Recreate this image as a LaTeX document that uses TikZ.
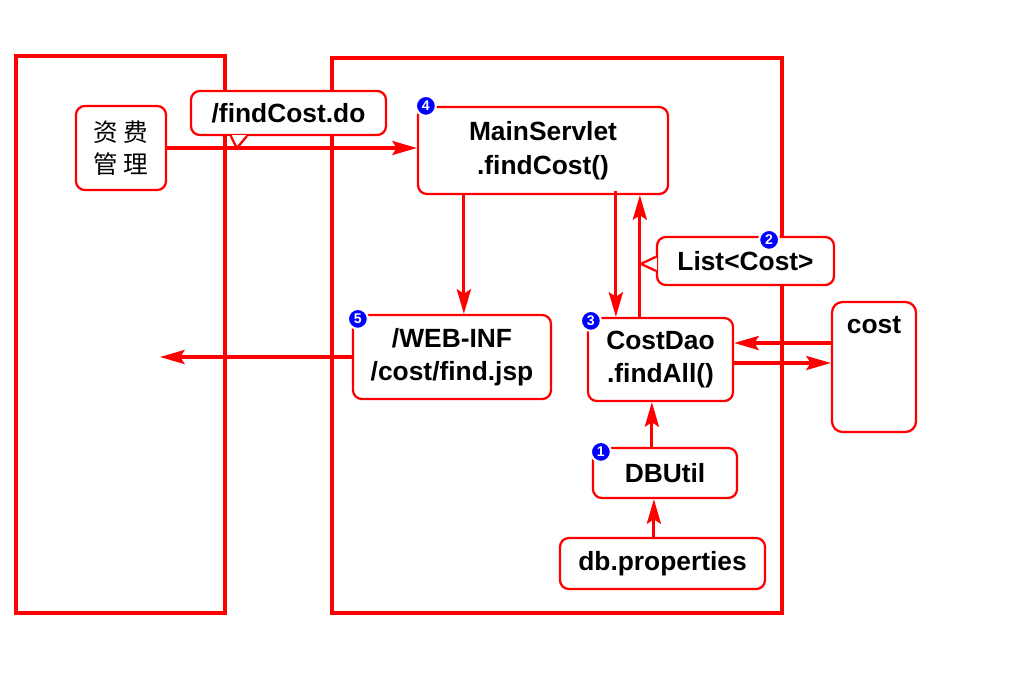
\documentclass[tikz,border=0pt]{standalone}
\usepackage{fontspec}
\setmainfont{Liberation Sans}
\newfontfamily\cjk{Noto Sans CJK SC}
\usetikzlibrary{arrows.meta,calc}
\tikzset{
  frame/.style={draw=red, line width=2pt},
  box/.style={draw=red, line width=1.3pt, fill=white, rounded corners=5pt, align=center,
    inner sep=0pt, font=\bfseries\fontsize{15}{19}\selectfont},
  arr/.style={->, draw=red, line width=1.8pt},
  badge/.style={circle, fill=blue, draw=white, line width=1.2pt, inner sep=0pt,
    minimum size=0.4cm, text=white, font=\bfseries\fontsize{8}{8}\selectfont},
}
\begin{document}
\begin{tikzpicture}[x=0.02cm, y=-0.02cm, >={Stealth[length=14pt,width=8pt,inset=2.5pt]}]
\useasboundingbox (0,0) rectangle (1024,683);
% browser side and server side
\draw[frame] (16,56) rectangle (225,613);
\draw[frame] (332,58) rectangle (782,613);

\node[box, minimum width=1.8cm, minimum height=1.68cm, font=\cjk\fontsize{14}{18}\selectfont] (zf) at (121,148) {资 费\\管 理};
\node[box, minimum width=5cm, minimum height=1.74cm] (ms) at (543,150.5) {MainServlet\\.findCost()};
\node[box, minimum width=3.96cm, minimum height=1.68cm] (web) at (452,357) {/WEB-INF\\/cost/find.jsp};
\node[box, minimum width=2.9cm, minimum height=1.66cm] (dao) at (660.5,359.5) {CostDao\\.findAll()};
\node[box, minimum width=1.68cm, minimum height=2.6cm, rounded corners=6pt] (cost) at (874,367) {};
\node[font=\bfseries\fontsize{15}{19}\selectfont] (costlbl) at ($(cost.north)+(0,24)$) {cost};
\node[box, minimum width=2.88cm, minimum height=1cm] (db) at (665,473) {DBUtil};
\node[box, minimum width=4.1cm, minimum height=1.02cm] (dbp) at (662.5,563.5) {db.properties};
\coordinate (out) at (160,357);

% connectors
\draw[arr] (zf.east) -- (zf.east -| ms.west);
\draw[arr] ($(ms.south west)+(47,0)$) coordinate (a1) -- (a1 |- web.north);
\draw[arr] (web.west) -- (out);
\draw[arr] ($(ms.south west)+(199,-4)$) coordinate (a2) -- (a2 |- dao.north);
\draw[arr] ($(dao.north west)+(53,0)$) coordinate (a3) -- (a3 |- ms.south);
\draw[arr] ($(cost.west)+(0,-24)$) coordinate (a4) -- (a4 -| dao.east);
\draw[arr] ($(dao.east)+(0,3.5)$) coordinate (a5) -- (a5 -| cost.west);
\draw[arr] ($(db.north west)+(60,0)$) coordinate (a6) -- (a6 |- dao.south);
\draw[arr] ($(dbp.north west)+(95,0)$) coordinate (a7) -- (a7 |- db.south);

% callouts
\node[box, minimum width=3.9cm, minimum height=0.88cm] (fc) at (288.5,113) {/findCost.do};
\draw[white, line width=1.8pt] ($(fc.south west)+(42,0)$) -- ($(fc.south west)+(56,0)$);
\draw[red, line width=1.3pt, fill=white] ($(fc.south west)+(41,0)$) -- ($(fc.south west)+(47,12)$) -- ($(fc.south west)+(57,0)$);
\node[box, minimum width=3.54cm, minimum height=0.96cm] (list) at (745.5,261) {List<Cost>};
\draw[white, line width=1.8pt] ($(list.north west)+(0,22)$) -- ($(list.north west)+(0,34)$);
\draw[red, line width=1.3pt, fill=white] ($(list.north west)+(0,21)$) -- ($(list.north west)+(-15,28)$) -- ($(list.north west)+(0,35)$);

% step numbers
\node[badge] (n1) at ($(db.north west)+(9,5)$) {1};
\node[badge] (n2) at ($(list.north east)+(-66,4)$) {2};
\node[badge] (n3) at ($(dao.north west)+(4,4)$) {3};
\node[badge] (n4) at ($(ms.north west)+(9,0)$) {4};
\node[badge] (n5) at ($(web.north west)+(6,5)$) {5};
\end{tikzpicture}
\end{document}
